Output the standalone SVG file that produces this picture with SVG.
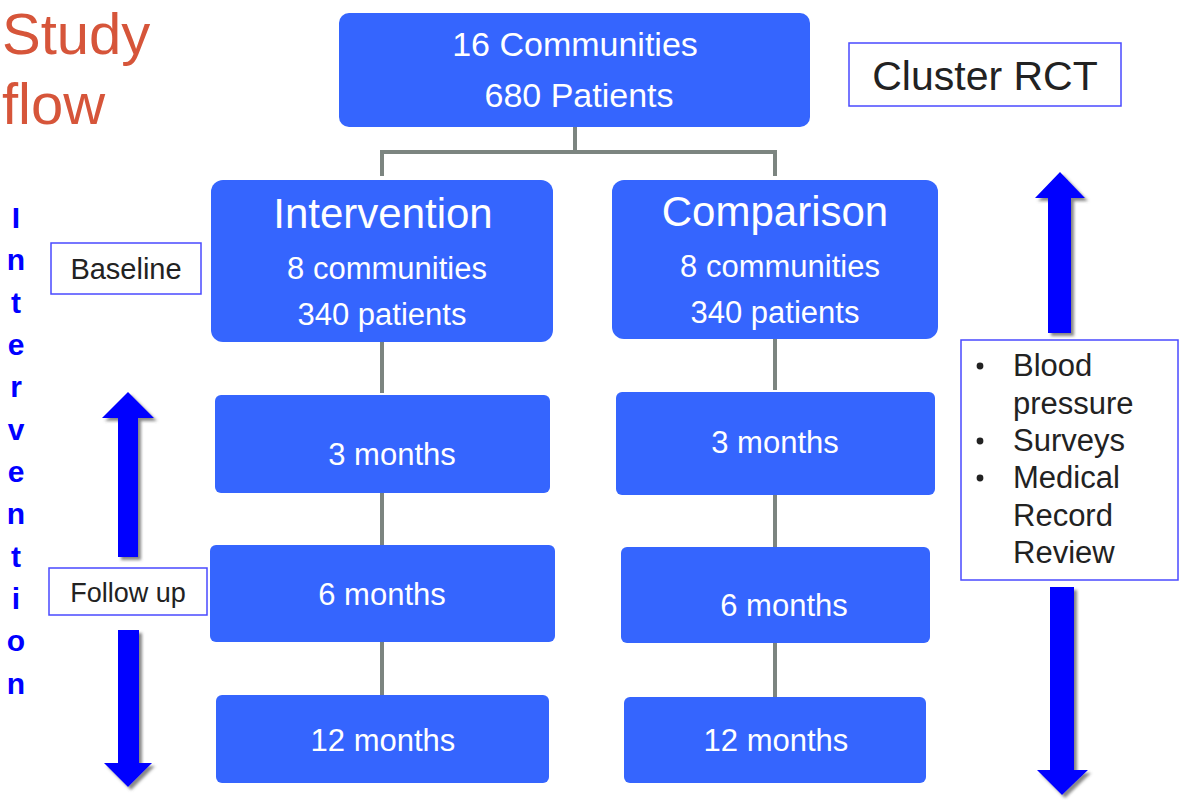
<svg xmlns="http://www.w3.org/2000/svg" width="1181" height="800" viewBox="0 0 1181 800">
<defs>
<style>
.box{fill:#3565fe;}
.wt{fill:#ffffff;font-family:"Liberation Sans",Arial,sans-serif;text-anchor:middle;}
.lbl{fill:#ffffff;stroke:#4a4aff;stroke-width:1.5;}
.dk{fill:#222222;font-family:"Liberation Sans",Arial,sans-serif;}
.con{stroke:#7c8580;stroke-width:4;fill:none;}
.vl{fill:#0000ff;font-family:"Liberation Sans",Arial,sans-serif;font-weight:bold;font-size:30px;text-anchor:middle;}
.arr{fill:#0000ff;}
</style>
<filter id="sh" x="-30%" y="-10%" width="160%" height="120%">
<feDropShadow dx="3" dy="3" stdDeviation="1.5" flood-color="#555555" flood-opacity="0.7"/>
</filter>
</defs>
<rect width="1181" height="800" fill="#ffffff"/>

<g id="title">
<text x="2" y="54" font-family="Liberation Sans,Arial,sans-serif" font-size="58" fill="#d6553a">Study</text>
<text x="2" y="124" font-family="Liberation Sans,Arial,sans-serif" font-size="58" fill="#d6553a">flow</text>
</g>

<g id="vertical-label">
<text class="vl" x="16" y="228">I</text>
<text class="vl" x="16" y="270">n</text>
<text class="vl" x="16" y="313">t</text>
<text class="vl" x="16" y="355">e</text>
<text class="vl" x="16" y="397">r</text>
<text class="vl" x="16" y="440">v</text>
<text class="vl" x="16" y="482">e</text>
<text class="vl" x="16" y="524">n</text>
<text class="vl" x="16" y="567">t</text>
<text class="vl" x="16" y="609">i</text>
<text class="vl" x="16" y="651">o</text>
<text class="vl" x="16" y="694">n</text>
</g>

<g id="connectors">
<path class="con" d="M575 127 V152 M382 176 V152 H775 V176"/>
<path class="con" d="M382 342 V393 M382 493 V546 M382 642 V696"/>
<path class="con" d="M775 339 V390 M775 495 V548 M775 643 V697"/>
</g>

<g id="top">
<rect class="box" x="339" y="13" width="471" height="114" rx="10"/>
<text class="wt" x="575" y="56" font-size="34">16 Communities</text>
<text class="wt" x="579" y="107" font-size="34">680 Patients</text>
</g>

<g id="cluster-rct">
<rect class="lbl" x="849" y="43" width="272" height="63"/>
<text class="dk" x="985" y="90" font-size="41" text-anchor="middle">Cluster RCT</text>
</g>

<g id="intervention">
<rect class="box" x="211" y="180" width="342" height="162" rx="12"/>
<text class="wt" x="383" y="228" font-size="42">Intervention</text>
<text class="wt" x="387" y="279" font-size="31">8 communities</text>
<text class="wt" x="382" y="325" font-size="31">340 patients</text>
</g>

<g id="comparison">
<rect class="box" x="612" y="180" width="326" height="159" rx="12"/>
<text class="wt" x="775" y="226" font-size="42">Comparison</text>
<text class="wt" x="780" y="277" font-size="31">8 communities</text>
<text class="wt" x="775" y="323" font-size="31">340 patients</text>
</g>

<g id="int-3m">
<rect class="box" x="215" y="395" width="335" height="98" rx="6"/>
<text class="wt" x="392" y="465" font-size="31">3 months</text>
</g>
<g id="cmp-3m">
<rect class="box" x="616" y="392" width="319" height="103" rx="6"/>
<text class="wt" x="775" y="453" font-size="31">3 months</text>
</g>
<g id="int-6m">
<rect class="box" x="210" y="545" width="345" height="97" rx="6"/>
<text class="wt" x="382" y="605" font-size="31">6 months</text>
</g>
<g id="cmp-6m">
<rect class="box" x="621" y="547" width="309" height="96" rx="6"/>
<text class="wt" x="784" y="616" font-size="31">6 months</text>
</g>
<g id="int-12m">
<rect class="box" x="216" y="695" width="333" height="88" rx="6"/>
<text class="wt" x="383" y="751" font-size="31">12 months</text>
</g>
<g id="cmp-12m">
<rect class="box" x="624" y="697" width="302" height="86" rx="6"/>
<text class="wt" x="776" y="751" font-size="31">12 months</text>
</g>

<g id="baseline">
<rect class="lbl" x="51" y="243" width="150" height="51"/>
<text class="dk" x="126" y="279" font-size="29" text-anchor="middle">Baseline</text>
</g>

<g id="follow-up">
<rect class="lbl" x="49" y="568" width="158" height="47"/>
<text class="dk" x="128" y="602" font-size="27" text-anchor="middle">Follow up</text>
</g>

<g id="left-arrows" filter="url(#sh)">
<polygon class="arr" points="118,557 138,557 138,418 154,418 128,392 102,418 118,418"/>
<polygon class="arr" points="118,630 139,630 139,763 152,763 128,787 104,763 118,763"/>
</g>

<g id="right-arrows" filter="url(#sh)">
<polygon class="arr" points="1048,333 1071,333 1071,198 1085,198 1060,172 1035,198 1048,198"/>
<polygon class="arr" points="1050,587 1074,587 1074,770 1088,770 1062,795 1037,770 1050,770"/>
</g>

<g id="measures">
<rect class="lbl" x="961" y="340" width="217" height="240"/>
<g class="dk" font-size="31">
<circle cx="980" cy="366" r="3.4" fill="#222222"/>
<circle cx="980" cy="441" r="3.4" fill="#222222"/>
<circle cx="980" cy="478" r="3.4" fill="#222222"/>
<text x="1013" y="376">Blood</text>
<text x="1013" y="414">pressure</text>
<text x="1013" y="451">Surveys</text>
<text x="1013" y="488">Medical</text>
<text x="1013" y="526">Record</text>
<text x="1013" y="563">Review</text>
</g>
</g>
</svg>
